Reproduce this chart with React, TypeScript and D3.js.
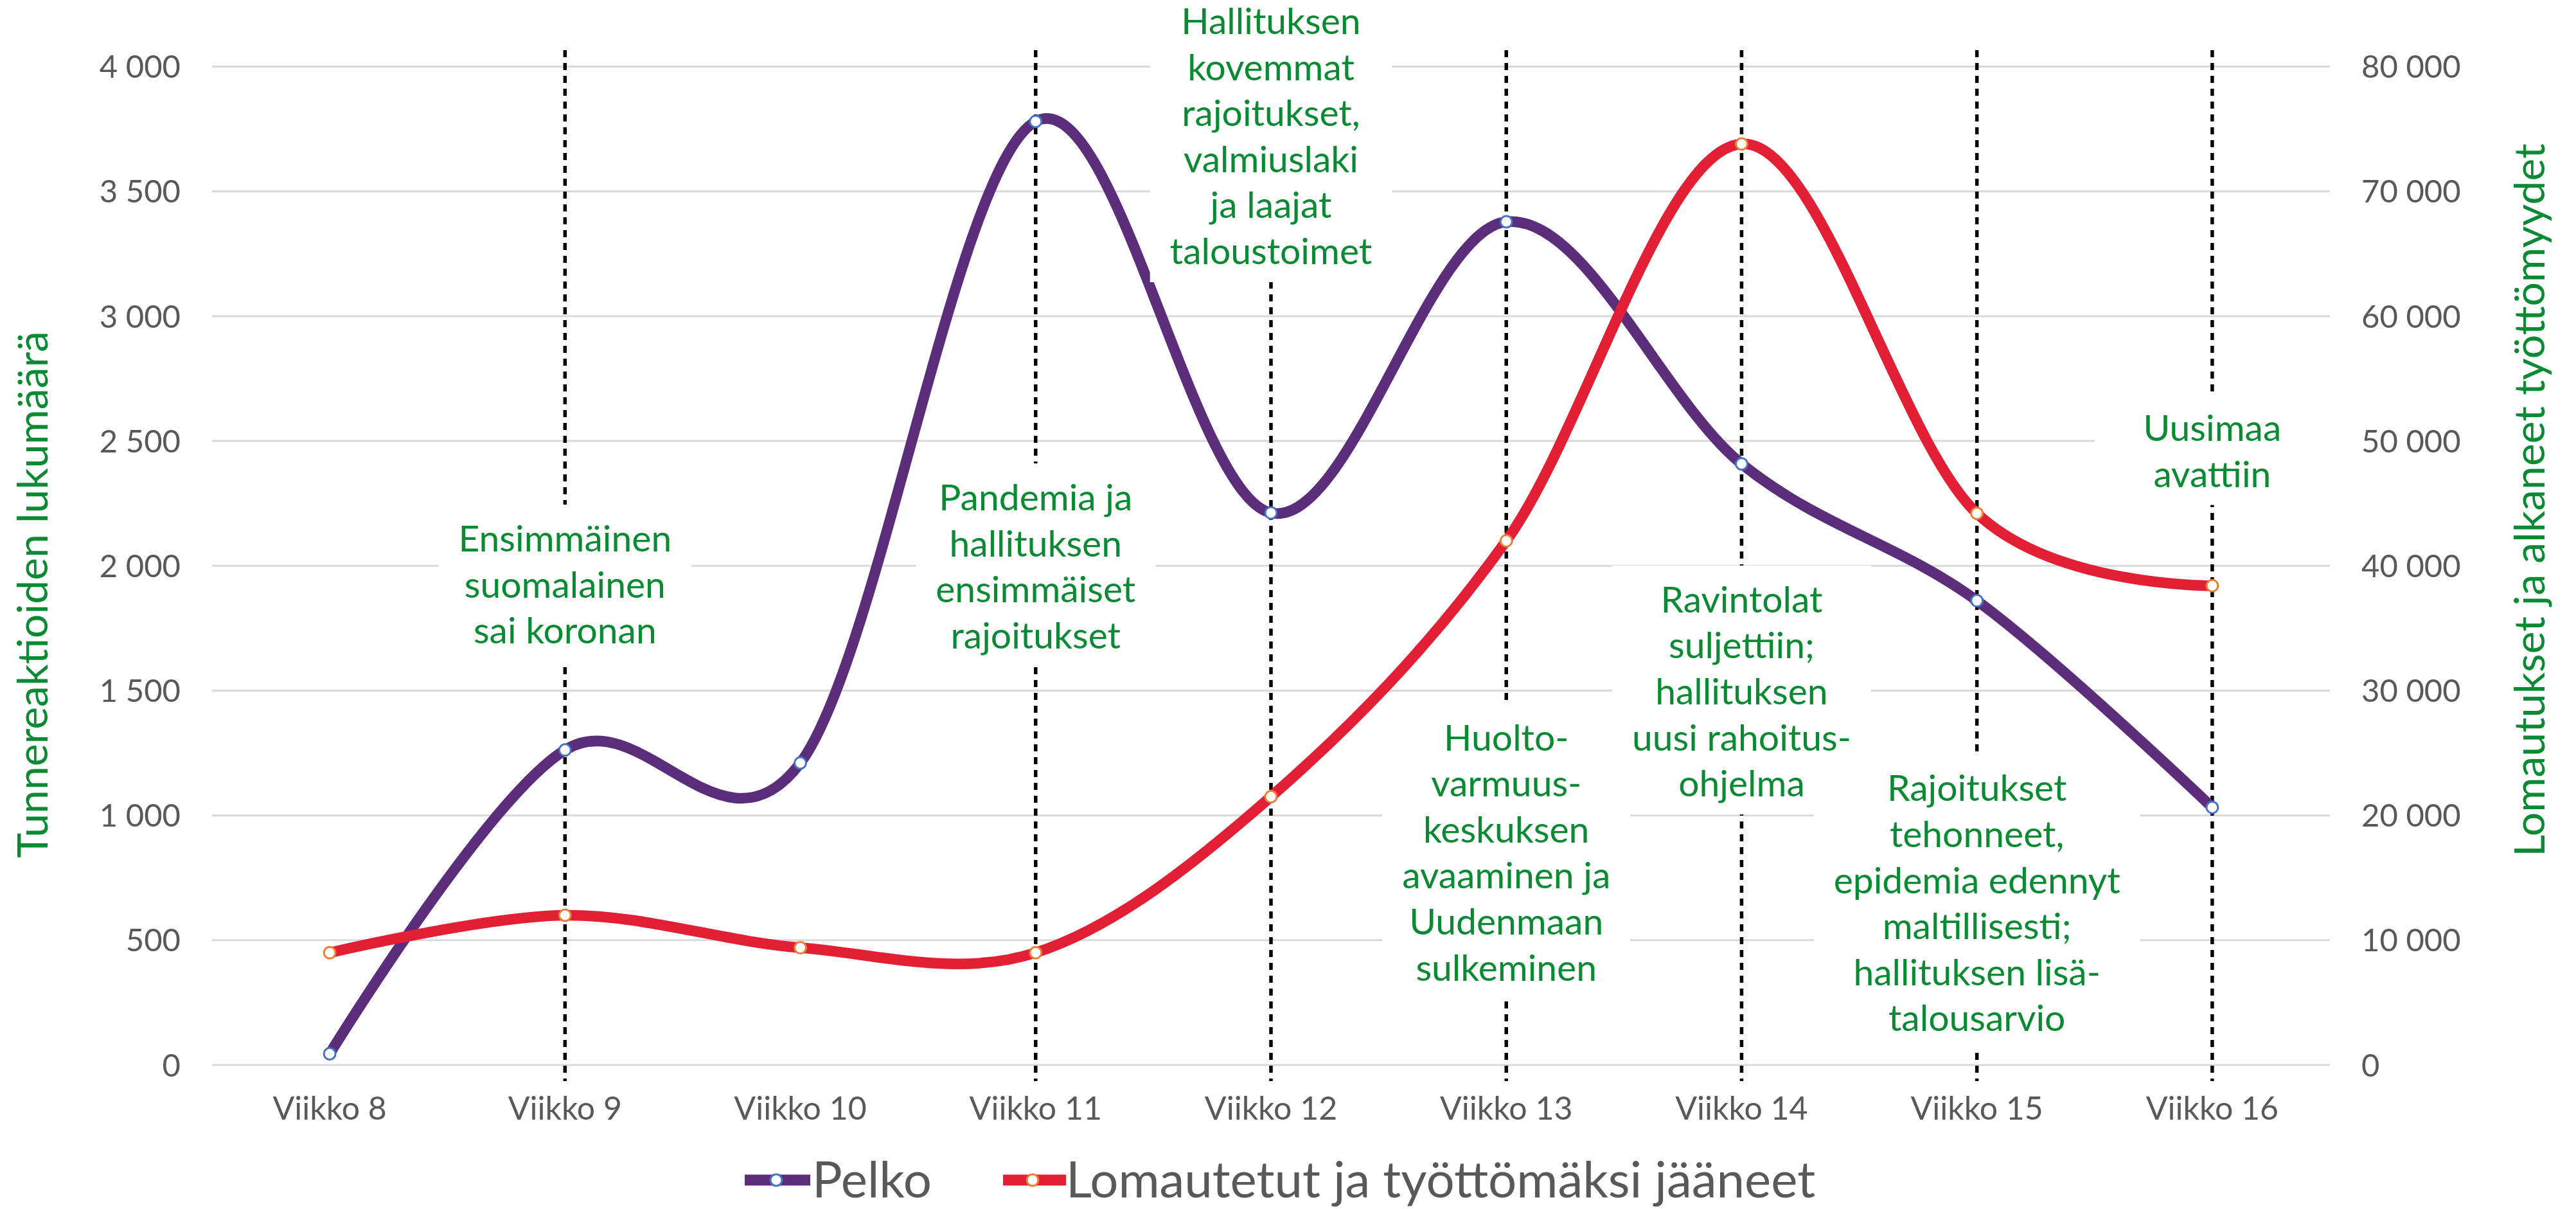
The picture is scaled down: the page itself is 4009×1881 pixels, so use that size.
import React, { useLayoutEffect, useRef, useState } from "react";
import * as d3 from "d3";

// ---------- data ----------
const weeks = [
  "Viikko 8",
  "Viikko 9",
  "Viikko 10",
  "Viikko 11",
  "Viikko 12",
  "Viikko 13",
  "Viikko 14",
  "Viikko 15",
  "Viikko 16",
];
const pelko = [45, 1262, 1210, 3780, 2212, 3378, 2408, 1860, 1032];
const lomautetut = [9000, 12000, 9400, 9000, 21500, 42000, 73800, 44200, 38400];

const leftTicks = [0, 500, 1000, 1500, 2000, 2500, 3000, 3500, 4000];
const rightTicks = [0, 10000, 20000, 30000, 40000, 50000, 60000, 70000, 80000];

const seriesNames = ["Pelko", "Lomautetut ja työttömäksi jääneet"];
const leftTitle = "Tunnereaktioiden lukumäärä";
const rightTitle = "Lomautukset ja alkaneet työttömyydet";

const eventWeeks = ["Viikko 9", "Viikko 11", "Viikko 12", "Viikko 13", "Viikko 14", "Viikko 15", "Viikko 16"];
const eventTexts = [
  ["Ensimmäinen", "suomalainen", "sai koronan"],
  ["Pandemia ja", "hallituksen", "ensimmäiset", "rajoitukset"],
  ["Hallituksen", "kovemmat", "rajoitukset,", "valmiuslaki", "ja laajat", "taloustoimet"],
  ["Huolto-", "varmuus-", "keskuksen", "avaaminen ja", "Uudenmaan", "sulkeminen"],
  ["Ravintolat", "suljettiin;", "hallituksen", "uusi rahoitus-", "ohjelma"],
  ["Rajoitukset", "tehonneet,", "epidemia edennyt", "maltillisesti;", "hallituksen lisä-", "talousarvio"],
  ["Uusimaa", "avattiin"],
];
// level (left-axis units) of the first text line of each annotation
const eventLevels = [2057, 2222, 4130, 1260, 1813, 1057, 2500];

// ---------- style ----------
const FONT = "Lato, 'Noto Sans', sans-serif";
const GREEN = "#0a8a32";
const GRAY = "#595959";
const PURPLE = "#5b2d7a";
const RED = "#e31f35";
const BLUE = "#4472c4";
const ORANGE = "#ed7d31";

const fmt = d3.formatLocale({
  decimal: ",",
  thousands: "\u00a0",
  grouping: [3],
  currency: ["", ""],
}).format(",");

export default function App() {
  const W = 4009;
  const H = 1881;
  const plotLeft = 330;
  const plotRight = 3626;
  const plotTop = 103.5;
  const plotBottom = 1657;

  const x = d3.scaleBand<string>().domain(weeks).range([plotLeft, plotRight]);
  const cx = (w: string) => (x(w) ?? 0) + x.bandwidth() / 2;
  const yL = d3.scaleLinear().domain([0, 4000]).range([plotBottom, plotTop]);
  const yR = d3.scaleLinear().domain([0, 80000]).range([plotBottom, plotTop]);

  const curve = d3.curveCardinal.tension(0);
  const linePelko = d3
    .line<number>()
    .x((_, i) => cx(weeks[i]))
    .y((d) => yL(d))
    .curve(curve);
  const lineLom = d3
    .line<number>()
    .x((_, i) => cx(weeks[i]))
    .y((d) => yR(d))
    .curve(curve);

  const annFont = 57;
  const lineH = 71.6;
  const refs = useRef<(SVGTextElement | null)[]>([]);
  const [widths, setWidths] = useState<number[]>(eventTexts.map(() => 0));
  useLayoutEffect(() => {
    const ws = refs.current.map((t) => (t ? t.getBBox().width : 0));
    setWidths(ws);
  }, []);

  const dotTop = 78;
  const dotBottom = 1682;
  const mR = 9;
  const mSW = 3;

  return (
    <svg
      width={W}
      height={H}
      viewBox={`0 0 ${W} ${H}`}
      style={{ position: "absolute", left: 0, top: 0, background: "#fff" }}
      fontFamily={FONT}
    >
      <rect x={0} y={0} width={W} height={H} fill="#fff" />
      {/* gridlines */}
      {leftTicks.map((t) => (
        <line
          key={"g" + t}
          x1={plotLeft}
          x2={plotRight}
          y1={yL(t)}
          y2={yL(t)}
          stroke="#d9d9d9"
          strokeWidth={3}
        />
      ))}
      {/* left ticks */}
      {leftTicks.map((t) => (
        <text
          key={"l" + t}
          x={281}
          y={yL(t)}
          dy="0.36em"
          textAnchor="end"
          fontSize={49}
          fill={GRAY}
        >
          {fmt(t)}
        </text>
      ))}
      {/* right ticks */}
      {rightTicks.map((t) => (
        <text
          key={"r" + t}
          x={3675}
          y={yR(t)}
          dy="0.36em"
          textAnchor="start"
          fontSize={49}
          fill={GRAY}
        >
          {fmt(t)}
        </text>
      ))}
      {/* x labels */}
      {weeks.map((w) => (
        <text key={w} x={cx(w)} y={1742} textAnchor="middle" fontSize={50} fill={GRAY}>
          {w}
        </text>
      ))}
      {/* axis titles */}
      <text
        transform={`translate(74, 925) rotate(-90)`}
        textAnchor="middle"
        fontSize={66}
        fill={GREEN}
      >
        {leftTitle}
      </text>
      <text
        transform={`translate(3960, 778) rotate(-90)`}
        textAnchor="middle"
        fontSize={66}
        fill={GREEN}
      >
        {rightTitle}
      </text>
      {/* dotted event lines */}
      {eventWeeks.map((w) => (
        <line
          key={"d" + w}
          x1={cx(w)}
          x2={cx(w)}
          y1={dotTop}
          y2={dotBottom}
          stroke="#000"
          strokeWidth={5.5}
          strokeDasharray="11 9"
        />
      ))}
      {/* series */}
      <path d={linePelko(pelko) ?? ""} fill="none" stroke={PURPLE} strokeWidth={16.5} />
      <path d={lineLom(lomautetut) ?? ""} fill="none" stroke={RED} strokeWidth={16.5} />
      {pelko.map((v, i) => (
        <circle
          key={"mp" + i}
          cx={cx(weeks[i])}
          cy={yL(v)}
          r={mR}
          fill="#fff"
          stroke={BLUE}
          strokeWidth={mSW}
        />
      ))}
      {lomautetut.map((v, i) => (
        <circle
          key={"ml" + i}
          cx={cx(weeks[i])}
          cy={yR(v)}
          r={mR}
          fill="#fff"
          stroke={ORANGE}
          strokeWidth={mSW}
        />
      ))}
      {/* annotations */}
      {eventWeeks.map((w, k) => {
        const lines = eventTexts[k];
        const y0 = yL(eventLevels[k]);
        const bw = x.bandwidth();
        const tw = widths[k];
        const boxW = tw + 62 > bw ? tw + 62 : bw;
        const top = y0 - 73;
        const bot = y0 + (lines.length - 1) * lineH + 28;
        return (
          <g key={"a" + w}>
            <rect x={cx(w) - boxW / 2} y={top} width={boxW} height={bot - top} fill="#fff" />
            <text
              ref={(el) => {
                refs.current[k] = el;
              }}
              x={cx(w)}
              y={y0}
              textAnchor="middle"
              fontSize={annFont}
              fill={GREEN}
            >
              {lines.map((ln, j) => (
                <tspan key={j} x={cx(w)} y={y0 + j * lineH}>
                  {ln}
                </tspan>
              ))}
            </text>
          </g>
        );
      })}
      {/* legend */}
      <g>
        <line x1={1159} x2={1261} y1={1836} y2={1836} stroke={PURPLE} strokeWidth={17} />
        <circle cx={1208} cy={1836} r={mR} fill="#fff" stroke={BLUE} strokeWidth={mSW} />
        <text x={1264} y={1863} fontSize={78} fill={GRAY}>
          {seriesNames[0]}
        </text>
        <line x1={1561} x2={1659} y1={1836} y2={1836} stroke={RED} strokeWidth={17} />
        <circle cx={1607} cy={1836} r={mR} fill="#fff" stroke={ORANGE} strokeWidth={mSW} />
        <text x={1659} y={1863} fontSize={78} fill={GRAY}>
          {seriesNames[1]}
        </text>
      </g>
    </svg>
  );
}
